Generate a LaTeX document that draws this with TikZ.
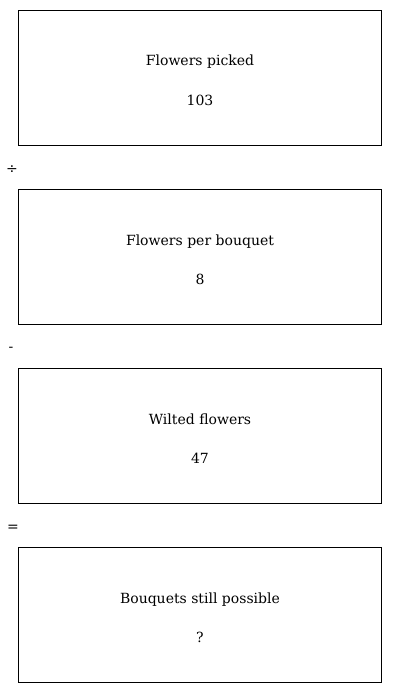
\documentclass[tikz,border=0pt]{standalone}
\usepackage{fontspec}
\setmainfont{DejaVu Serif}
\begin{document}
\begin{tikzpicture}[x=1pt,y=-1pt,
  card/.style={draw=black,line width=1pt,fill=white},
  lbl/.style={font=\fontsize{14}{17}\selectfont,inner sep=0pt,anchor=base},
  op/.style={font=\fontsize{14}{17}\selectfont,inner sep=0pt}]
\useasboundingbox (0,0) rectangle (400,693);
\foreach \i/\t/\v in {0/Flowers picked/103,1/Flowers per bouquet/8,2/Wilted flowers/47,3/Bouquets still possible/?}{
  \pgfmathsetmacro{\top}{10+179*\i}
  \node[card,minimum width=363pt,minimum height=135pt,anchor=north west,inner sep=0pt] (box\i) at (18,\top) {};
  \node[lbl] (title\i) at ([yshift=12pt]box\i.center) {\t};
  \node[lbl] (val\i) at ([yshift=-27pt]box\i.center) {\v};
}
\node[op] (op1) at (12,170) {÷};
\node[op] (op2) at (11,349) {-};
\node[op] (op3) at (13,528) {=};
\end{tikzpicture}
\end{document}
